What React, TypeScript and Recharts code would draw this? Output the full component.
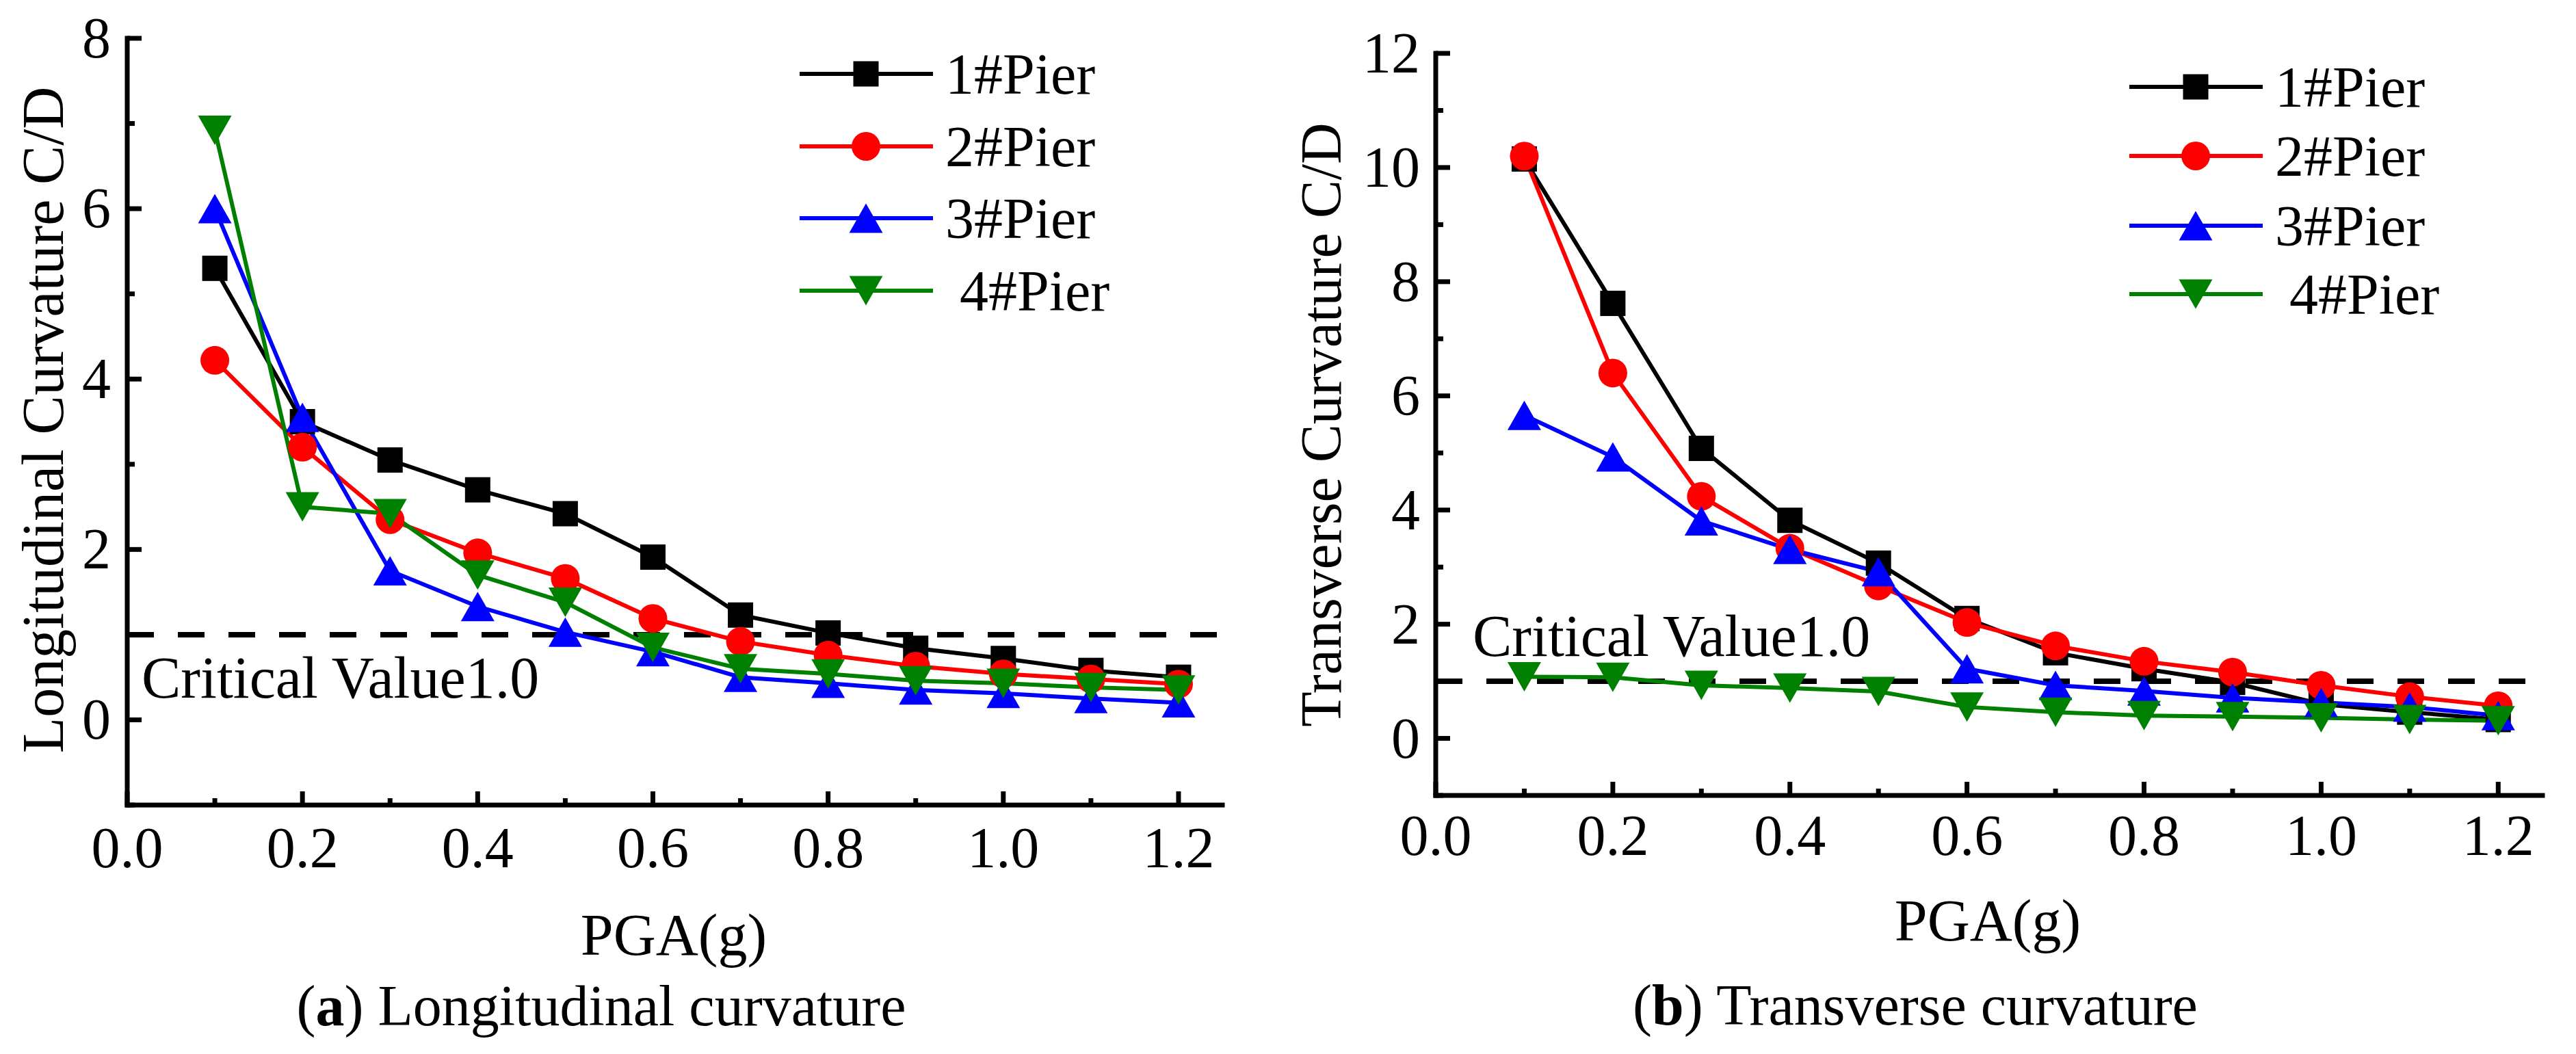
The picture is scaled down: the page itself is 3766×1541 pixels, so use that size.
import { LineChart, Line, XAxis, YAxis, ReferenceLine, Legend } from "recharts";

const FONT = '"Liberation Serif", "Times New Roman", Times, serif';
const serif = { fontFamily: FONT };

const pga = [0.1, 0.2, 0.3, 0.4, 0.5, 0.6, 0.7, 0.8, 0.9, 1.0, 1.1, 1.2];

// longitudinal curvature C/D
const long1 = [5.3, 3.5, 3.05, 2.7, 2.42, 1.91, 1.23, 1.02, 0.84, 0.72, 0.58, 0.5];
const long2 = [4.22, 3.2, 2.35, 1.96, 1.66, 1.19, 0.92, 0.76, 0.63, 0.54, 0.48, 0.42];
const long3 = [6.0, 3.55, 1.75, 1.33, 1.03, 0.8, 0.5, 0.43, 0.35, 0.31, 0.25, 0.2];
const long4 = [6.92, 2.5, 2.42, 1.7, 1.38, 0.85, 0.6, 0.54, 0.46, 0.43, 0.38, 0.35];

// transverse curvature C/D
const trans1 = [10.15, 7.62, 5.08, 3.82, 3.07, 2.1, 1.5, 1.22, 0.98, 0.6, 0.46, 0.33];
const trans2 = [10.2, 6.4, 4.24, 3.33, 2.67, 2.03, 1.62, 1.35, 1.16, 0.93, 0.73, 0.57];
const trans3 = [5.66, 4.93, 3.81, 3.31, 2.92, 1.22, 0.93, 0.83, 0.71, 0.63, 0.55, 0.4];
const trans4 = [1.08, 1.07, 0.93, 0.88, 0.82, 0.55, 0.46, 0.4, 0.38, 0.36, 0.33, 0.31];

const xTicks = [0, 0.1, 0.2, 0.3, 0.4, 0.5, 0.6, 0.7, 0.8, 0.9, 1.0, 1.1, 1.2];
const longTicks = [-1, 0, 1, 2, 3, 4, 5, 6, 7, 8];
const transTicks = [-1, 0, 1, 2, 3, 4, 5, 6, 7, 8, 9, 10, 11, 12];

const series = [
  { key: "p1", name: "1#Pier", color: "#000000", shape: "square" },
  { key: "p2", name: "2#Pier", color: "#ff0000", shape: "circle" },
  { key: "p3", name: "3#Pier", color: "#0000ff", shape: "up" },
  { key: "p4", name: " 4#Pier", color: "#008000", shape: "down" },
];

const longData = pga.map((x, i) => ({ pga: x, p1: long1[i], p2: long2[i], p3: long3[i], p4: long4[i] }));
const transData = pga.map((x, i) => ({ pga: x, p1: trans1[i], p2: trans2[i], p3: trans3[i], p4: trans4[i] }));

const marker = (shape: string, cx: number, cy: number, color: string, key?: any) => {
  if (shape === "square")
    return <rect key={key} x={cx - 18.5} y={cy - 18.5} width={37} height={37} fill={color} />;
  if (shape === "circle") return <circle key={key} cx={cx} cy={cy} r={21} fill={color} />;
  if (shape === "up")
    return (
      <polygon
        key={key}
        points={`${cx},${cy - 21.5} ${cx + 24.5},${cy + 21.5} ${cx - 24.5},${cy + 21.5}`}
        fill={color}
      />
    );
  return (
    <polygon
      key={key}
      points={`${cx - 24.5},${cy - 21.5} ${cx + 24.5},${cy - 21.5} ${cx},${cy + 21.5}`}
      fill={color}
    />
  );
};

const XTick = ({ x, y, payload, gap }: any) => {
  const v = payload.value;
  const major = Math.round(v * 10) % 2 === 0;
  return (
    <g>
      <line x1={x} y1={y} x2={x} y2={y - (major ? 20 : 10)} stroke="#000" strokeWidth={7} />
      {major && (
        <text x={x} y={y + gap} textAnchor="middle" style={serif} fontSize={84} fill="#000">
          {v.toFixed(1)}
        </text>
      )}
    </g>
  );
};

const YTick = ({ x, y, payload, gap }: any) => {
  const v = payload.value;
  const major = v % 2 === 0;
  return (
    <g>
      <line x1={x} y1={y} x2={x + (major ? 21 : 11)} y2={y} stroke="#000" strokeWidth={7} />
      {major && (
        <text x={x - gap} y={y + 28} textAnchor="end" style={serif} fontSize={84} fill="#000">
          {v}
        </text>
      )}
    </g>
  );
};

const PierLegend = ({ rows }: { rows: number[] }) => (
  <svg width={520} height={460} style={{ overflow: "visible", display: "block" }}>
    {series.map((s, i) => (
      <g key={s.key}>
        <line x1={0} y1={rows[i]} x2={195} y2={rows[i]} stroke={s.color} strokeWidth={6} />
        {marker(s.shape, 97, rows[i], s.color)}
        <text
          x={213}
          y={rows[i] + 29}
          fontSize={84}
          fill="#000"
          style={{ ...serif, whiteSpace: "pre" }}
        >
          {s.name}
        </text>
      </g>
    ))}
  </svg>
);

const Panel = ({ data, yTicks, yMax, margin, xGap, yGap, legendPos, legendRows, width }: any) => (
  <LineChart width={width} height={1541} data={data} margin={margin}>
    <XAxis
      type="number"
      dataKey="pga"
      domain={[0, 1.25]}
      ticks={xTicks}
      interval={0}
      height={100}
      tickSize={0}
      tickMargin={0}
      tickLine={false}
      axisLine={{ stroke: "#000", strokeWidth: 7, strokeLinecap: "square" }}
      tick={(p: any) => <XTick {...p} gap={xGap} />}
    />
    <YAxis
      type="number"
      domain={[-1, yMax]}
      ticks={yTicks}
      interval={0}
      width={100}
      tickSize={0}
      tickMargin={0}
      tickLine={false}
      axisLine={{ stroke: "#000", strokeWidth: 7, strokeLinecap: "square" }}
      tick={(p: any) => <YTick {...p} gap={yGap} />}
    />
    <ReferenceLine y={1} stroke="#000" strokeWidth={8} strokeDasharray="39 35" />
    {series.map((s) => (
      <Line
        key={s.key}
        type="linear"
        dataKey={s.key}
        name={s.name}
        stroke={s.color}
        strokeWidth={6}
        isAnimationActive={false}
        dot={(p: any) => marker(s.shape, p.cx, p.cy, s.color, `${s.key}-${p.index}`)}
        activeDot={false}
      />
    ))}
    <Legend
      layout="vertical"
      align="center"
      verticalAlign="middle"
      wrapperStyle={{ position: "absolute", left: legendPos[0], top: legendPos[1], width: 520, height: 460 }}
      content={() => <PierLegend rows={legendRows} />}
    />
  </LineChart>
);

export default function App() {
  return (
    <div style={{ position: "absolute", left: 0, top: 0, width: 3766, height: 1541, background: "#fff" }}>
      <div style={{ position: "absolute", left: 0, top: 0 }}>
        <Panel
          width={1880}
          data={longData}
          yTicks={longTicks}
          yMax={8}
          margin={{ top: 56, right: 93, bottom: 264, left: 86 }}
          xGap={91}
          yGap={24}
          legendPos={[1169, 0]}
          legendRows={[108, 214, 319, 425]}
        />
      </div>
      <div style={{ position: "absolute", left: 1880, top: 0 }}>
        <Panel
          width={1886}
          data={transData}
          yTicks={transTicks}
          yMax={12}
          margin={{ top: 78, right: 49, bottom: 278, left: 119 }}
          xGap={87}
          yGap={23}
          legendPos={[1233, 0]}
          legendRows={[127, 228, 330, 430]}
        />
      </div>
      <svg
        width={3766}
        height={1541}
        style={{ position: "absolute", left: 0, top: 0, pointerEvents: "none" }}
      >
        <g fill="#000">
          <text transform="translate(92,614) rotate(-90)" textAnchor="middle" fontSize={86} style={serif}>
            Longitudinal Curvature C/D
          </text>
          <text x={985} y={1396} textAnchor="middle" fontSize={86} style={serif}>
            PGA(g)
          </text>
          <text x={879} y={1499} textAnchor="middle" fontSize={84} style={serif}>
            (<tspan fontWeight="bold">a</tspan>) Longitudinal curvature
          </text>
          <text x={207} y={1020} fontSize={86} style={serif}>
            Critical Value1.0
          </text>

          <text transform="translate(1960,621) rotate(-90)" textAnchor="middle" fontSize={84} style={serif}>
            Transverse Curvature C/D
          </text>
          <text x={2906} y={1375} textAnchor="middle" fontSize={86} style={serif}>
            PGA(g)
          </text>
          <text x={2800} y={1498} textAnchor="middle" fontSize={84} style={serif}>
            (<tspan fontWeight="bold">b</tspan>) Transverse curvature
          </text>
          <text x={2153} y={959} fontSize={86} style={serif}>
            Critical Value1.0
          </text>
        </g>
      </svg>
    </div>
  );
}
